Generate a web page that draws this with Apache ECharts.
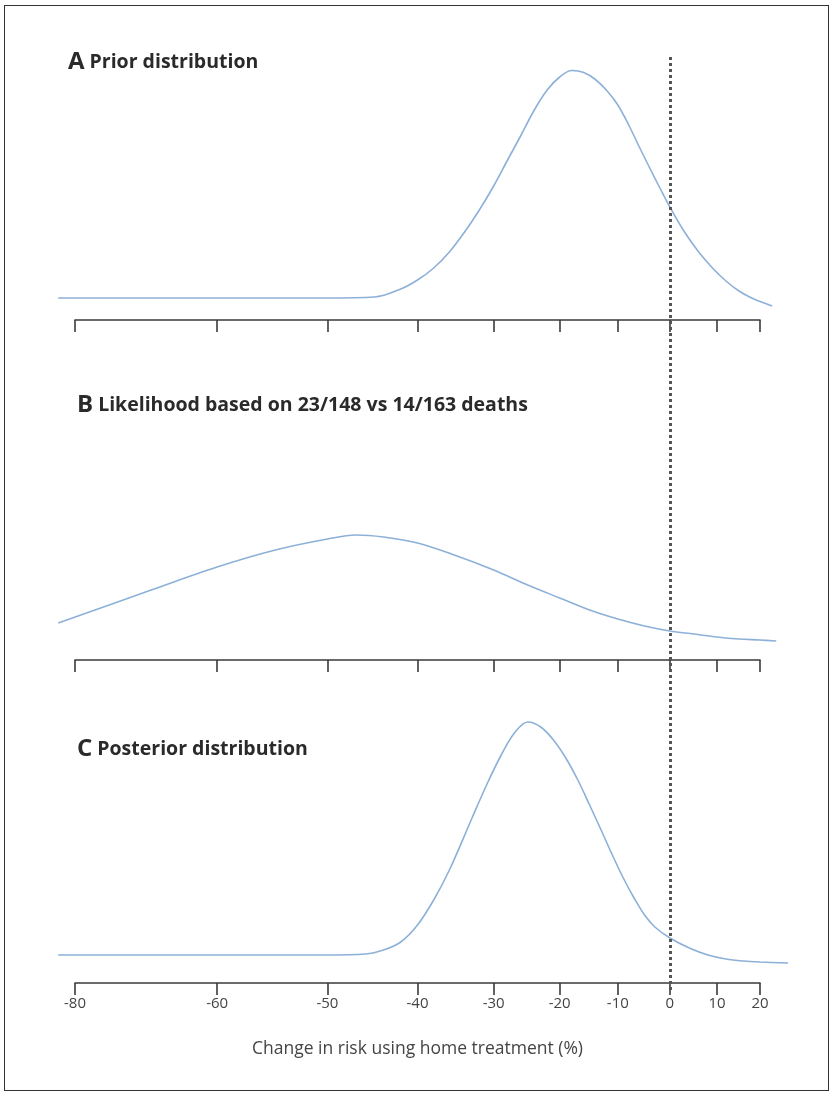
<!DOCTYPE html>
<html>
<head>
<meta charset="utf-8">
<script src="https://cdn.jsdelivr.net/npm/echarts@6/dist/echarts.min.js"></script>
<style>
html,body{margin:0;padding:0;background:#fff;}
#frame{position:absolute;left:4px;top:5px;width:825px;height:1086px;border:1px solid #333;box-sizing:border-box;}
#chart{position:absolute;left:0;top:0;width:834px;height:1098px;}
</style>
</head>
<body>
<div id="frame"></div>
<div id="chart"></div>
<script>
// ---- data (change in risk %, relative density) ----
const tickLabels = ['-80', '-60', '-50', '-40', '-30', '-20', '-10', '0', '10', '20'];
const tickRisk = [-70, -60, -50, -40, -30, -20, -10, 0, 10, 20];

const priorRisk = [-71, -65, -60, -55, -50, -45, -42, -40, -38, -36, -34, -32, -30, -28, -26, -24, -22, -20, -18, -16, -14, -12, -10, -8, -6, -4, -2, 0, 3, 6, 9, 12, 15, 18, 21, 23];
const priorDens = [0.088, 0.088, 0.088, 0.088, 0.088, 0.092, 0.124, 0.16, 0.208, 0.272, 0.352, 0.44, 0.536, 0.64, 0.74, 0.84, 0.92, 0.972, 0.998, 0.99, 0.962, 0.918, 0.86, 0.78, 0.692, 0.608, 0.528, 0.452, 0.352, 0.272, 0.208, 0.156, 0.116, 0.088, 0.068, 0.056];

const likeRisk = [-71, -65, -60, -55, -50, -47, -44, -40, -35, -30, -25, -20, -15, -10, -5, 0, 5, 10, 15, 20, 24];
const likeDens = [0.148, 0.28, 0.372, 0.44, 0.484, 0.5, 0.492, 0.468, 0.416, 0.36, 0.30, 0.248, 0.2, 0.164, 0.136, 0.116, 0.104, 0.092, 0.084, 0.08, 0.076];

const postRisk = [-71, -60, -50, -46, -44, -42, -40, -38, -36, -33, -31, -29, -27, -25, -23, -21, -19, -17, -15, -13, -11, -9, -7, -5, -3, 0, 4, 8, 12, 16, 20, 27];
const postDens = [0.112, 0.112, 0.112, 0.116, 0.132, 0.164, 0.232, 0.332, 0.452, 0.66, 0.792, 0.908, 1.0, 1.044, 1.024, 0.972, 0.9, 0.812, 0.712, 0.612, 0.512, 0.42, 0.34, 0.272, 0.224, 0.18, 0.14, 0.112, 0.096, 0.088, 0.084, 0.08];

const panelTitles = [['A', 'Prior distribution'], ['B', 'Likelihood based on 23/148 vs 14/163 deaths'], ['C', 'Posterior distribution']];
const xTitle = 'Change in risk using home treatment (%)';

// ---- build ----
const lr = r => Math.log(1 + r / 100);
const xMin = lr(tickRisk[0]);
const xMax = lr(tickRisk[tickRisk.length - 1]);
const tickVals = tickRisk.map(lr);
const labelFor = v => {
  let best = 0, d = Infinity;
  tickVals.forEach((t, i) => { if (Math.abs(t - v) < d) { d = Math.abs(t - v); best = i; } });
  return tickLabels[best];
};
const pts = (xs, ys) => xs.map((r, i) => [lr(r), ys[i]]);

// layout
const W = 834;
const axLeft = 75, axRight = 760;
const ext = 40; // curve area extends beyond the axis ends
const k = (axRight - axLeft) / (xMax - xMin);
const cMin = xMin - ext / k, cMax = xMax + ext / k;

const axisColor = '#3a3a3a';
const curveColor = '#8db0d8';
const panelAxisY = [320, 660, 983];
const unitPx = 250, yMaxV = 1.1;

const grids = [], xAxes = [], yAxes = [], series = [];
const curves = [pts(priorRisk, priorDens), pts(likeRisk, likeDens), pts(postRisk, postDens)];
panelAxisY.forEach((ay, i) => {
  // axis grid
  grids.push({ left: axLeft, right: W - axRight, top: ay - unitPx * yMaxV, height: unitPx * yMaxV });
  xAxes.push({
    type: 'value', gridIndex: 2 * i, min: xMin, max: xMax,
    splitLine: { show: false },
    axisLine: { show: true, lineStyle: { color: axisColor, width: 1.6 } },
    axisTick: { show: true, customValues: tickVals, length: 12, lineStyle: { color: axisColor, width: 1.6 } },
    axisLabel: {
      show: i === 2, customValues: tickVals, formatter: v => labelFor(v),
      color: '#444', fontSize: 15, fontFamily: 'Open Sans', margin: 13
    },
    name: i === 2 ? xTitle : '', nameLocation: 'middle', nameGap: 57,
    nameTextStyle: { color: '#444', fontSize: 17.5, fontFamily: 'Open Sans' }
  });
  yAxes.push({ type: 'value', gridIndex: 2 * i, min: 0, max: yMaxV, show: false, splitLine: { show: false } });
  // curve grid (same scale, wider)
  grids.push({ left: axLeft - ext, right: W - axRight - ext, top: ay - unitPx * yMaxV, height: unitPx * yMaxV });
  xAxes.push({ type: 'value', gridIndex: 2 * i + 1, min: cMin, max: cMax, show: false, splitLine: { show: false } });
  yAxes.push({ type: 'value', gridIndex: 2 * i + 1, min: 0, max: yMaxV, show: false, splitLine: { show: false } });
  series.push({
    type: 'line', xAxisIndex: 2 * i + 1, yAxisIndex: 2 * i + 1, data: curves[i], smooth: 0.35,
    showSymbol: false, silent: true,
    lineStyle: { color: curveColor, width: 1.6 }
  });
});

// full-height grid for the dotted reference line at no change (0%)
grids.push({ left: axLeft, right: W - axRight, top: 57, height: 933 });
xAxes.push({ type: 'value', gridIndex: 6, min: xMin, max: xMax, show: false, splitLine: { show: false } });
yAxes.push({ type: 'value', gridIndex: 6, min: 0, max: 1, show: false, splitLine: { show: false } });
series.push({
  type: 'line', xAxisIndex: 6, yAxisIndex: 6, data: [], silent: true,
  markLine: {
    silent: true, symbol: 'none', label: { show: false },
    lineStyle: { color: '#555', width: 3, type: [3, 3] },
    data: [{ xAxis: lr(0) }]
  }
});

const titleTops = [45, 388, 732];
const titleLefts = [63, 72, 72];
const titles = panelTitles.map((t, i) => ({
  text: '{l|' + t[0] + '} {t|' + t[1] + '}',
  left: titleLefts[i], top: titleTops[i],
  textStyle: {
    rich: {
      l: { fontSize: 24, fontWeight: 'bold', fontFamily: 'Open Sans', color: '#2a2a2a' },
      t: { fontSize: 19.5, fontWeight: 'bold', fontFamily: 'Open Sans', color: '#2a2a2a', letterSpacing: -0.3 }
    }
  }
}));

const chart = echarts.init(document.getElementById('chart'), null, { renderer: 'canvas' });
chart.setOption({
  animation: false,
  backgroundColor: 'transparent',
  title: titles,
  grid: grids, xAxis: xAxes, yAxis: yAxes, series: series
});
</script>
</body>
</html>
